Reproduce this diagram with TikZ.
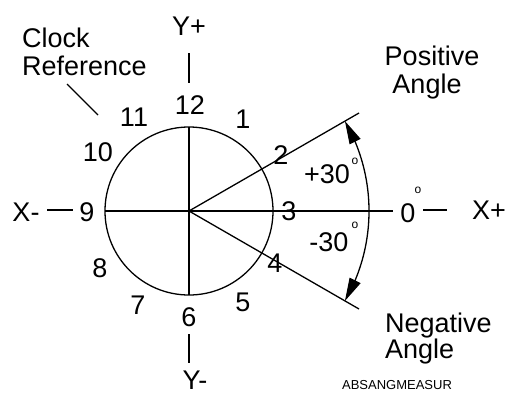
\documentclass[tikz,border=0pt]{standalone}
\usepackage{fontspec}
\setmainfont{Liberation Sans}
\usetikzlibrary{arrows.meta,bending}
\begin{document}
\begin{tikzpicture}[x=1pt,y=1pt,
  ln/.style={line width=1.3pt,black},
  lbl/.style={inner sep=0pt,font=\fontsize{27}{29}\selectfont},
  deg/.style={inner sep=0pt,font=\fontsize{12}{12}\selectfont},
  tiny/.style={inner sep=0pt,font=\fontsize{13}{13}\selectfont},
  >={Triangle[length=23pt,width=12pt]}]
\useasboundingbox (0,0) rectangle (505,-394);
% geometry
\coordinate (c) at (189,-211);
\node[draw,ln,circle,minimum size=168pt,inner sep=0pt] (circ) at (c) {};
\coordinate (top) at (189,-127);
\coordinate (bot) at (189,-295);
\coordinate (left) at (105,-211);
\coordinate (right) at (393,-211);
\coordinate (pp) at (359,-113);
\coordinate (pm) at (359,-309);
\coordinate (as) at (344.9,-301);
\draw[ln] (top) -- (bot);
\draw[ln] (left) -- (right);
\draw[ln] (c) -- (pp);
\draw[ln] (c) -- (pm);
\draw[ln,<->] (as) arc[start angle=-30,end angle=30,radius=180pt];
% axis ticks
\coordinate (yt1) at (189,-53); \coordinate (yt2) at (189,-83);
\coordinate (yb1) at (189,-334); \coordinate (yb2) at (189,-363);
\coordinate (xl1) at (47,-210); \coordinate (xl2) at (73,-210);
\coordinate (xr1) at (423,-210); \coordinate (xr2) at (447,-210);
\draw[ln] (yt1) -- (yt2);
\draw[ln] (yb1) -- (yb2);
\draw[ln] (xl1) -- (xl2);
\draw[ln] (xr1) -- (xr2);
% leader
\coordinate (cl1) at (67,-84); \coordinate (cl2) at (98,-115);
\draw[ln] (cl1) -- (cl2);
% axis labels
\node[lbl] (yp) at (189,-26) {Y+};
\node[lbl] (ym) at (195,-380) {Y-};
\node[lbl] (xm) at (26,-212) {X-};
\node[lbl] (xp) at (489,-210) {X+};
\node[lbl] (zero) at (408,-213) {0};
\node[deg] (zd) at (418,-190) {o};
% clock numbers
\node[lbl] (n12) at (190,-105) {12};
\node[lbl] (n1) at (243,-119) {1};
\node[lbl] (n2) at (281,-155) {2};
\node[lbl] (n3) at (289,-211) {3};
\node[lbl] (n4) at (275,-263) {4};
\node[lbl] (n5) at (243,-302) {5};
\node[lbl] (n6) at (189,-317) {6};
\node[lbl] (n7) at (138,-305) {7};
\node[lbl] (n8) at (100,-268) {8};
\node[lbl] (n9) at (87,-212) {9};
\node[lbl] (n10) at (98,-152) {10};
\node[lbl] (n11) at (134,-117) {11};
% angle labels
\node[lbl] (ap) at (327,-174) {+30};
\node[deg] (apd) at (355,-161) {o};
\node[lbl] (am) at (329,-242) {-30};
\node[deg] (amd) at (355,-225) {o};
% text blocks
\node[lbl,anchor=base west] (clk) at (22,-47) {Clock};
\node[lbl,anchor=base west] (ref) at (22,-75) {Reference};
\node[lbl,anchor=base] (pos) at (432,-65) {Positive};
\node[lbl,anchor=base] (pang) at (427,-93) {Angle};
\node[lbl,anchor=base west] (neg) at (385,-332) {Negative};
\node[lbl,anchor=base west] (nang) at (385,-358) {Angle};
\node[tiny] (code) at (397,-385) {ABSANGMEASUR};
\end{tikzpicture}
\end{document}
